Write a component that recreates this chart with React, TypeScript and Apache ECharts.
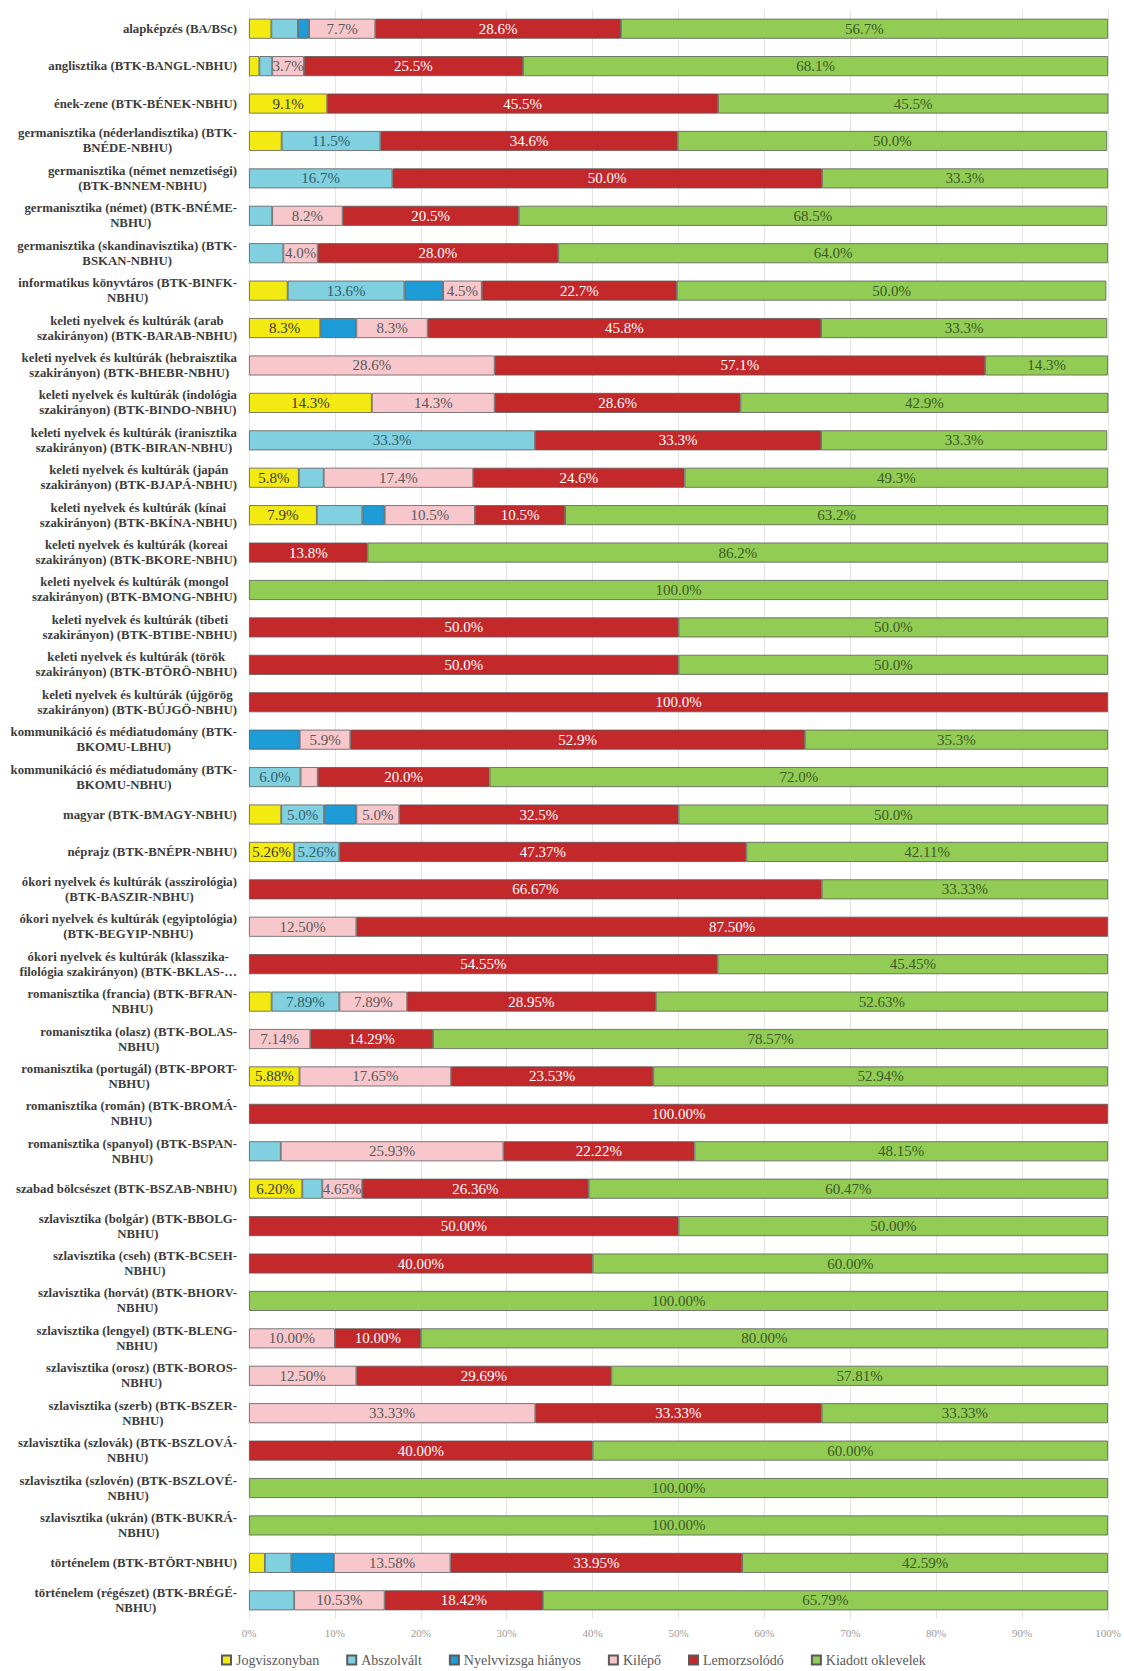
import React, { useEffect, useRef } from "react";
import * as echarts from "echarts";

const categories = [
  "alapképzés (BA/BSc)",
  "anglisztika (BTK-BANGL-NBHU)",
  "ének-zene (BTK-BÉNEK-NBHU)",
  "germanisztika (néderlandisztika) (BTK-\nBNÉDE-NBHU)",
  "germanisztika (német nemzetiségi)\n(BTK-BNNEM-NBHU)",
  "germanisztika (német) (BTK-BNÉME-\nNBHU)",
  "germanisztika (skandinavisztika) (BTK-\nBSKAN-NBHU)",
  "informatikus könyvtáros (BTK-BINFK-\nNBHU)",
  "keleti nyelvek és kultúrák (arab\nszakirányon) (BTK-BARAB-NBHU)",
  "keleti nyelvek és kultúrák (hebraisztika\nszakirányon) (BTK-BHEBR-NBHU)",
  "keleti nyelvek és kultúrák (indológia\nszakirányon) (BTK-BINDO-NBHU)",
  "keleti nyelvek és kultúrák (iranisztika\nszakirányon) (BTK-BIRAN-NBHU)",
  "keleti nyelvek és kultúrák (japán\nszakirányon) (BTK-BJAPÁ-NBHU)",
  "keleti nyelvek és kultúrák (kínai\nszakirányon) (BTK-BKÍNA-NBHU)",
  "keleti nyelvek és kultúrák (koreai\nszakirányon) (BTK-BKORE-NBHU)",
  "keleti nyelvek és kultúrák (mongol\nszakirányon) (BTK-BMONG-NBHU)",
  "keleti nyelvek és kultúrák (tibeti\nszakirányon) (BTK-BTIBE-NBHU)",
  "keleti nyelvek és kultúrák (török\nszakirányon) (BTK-BTÖRÖ-NBHU)",
  "keleti nyelvek és kultúrák (újgörög\nszakirányon) (BTK-BÚJGÖ-NBHU)",
  "kommunikáció és médiatudomány (BTK-\nBKOMU-LBHU)",
  "kommunikáció és médiatudomány (BTK-\nBKOMU-NBHU)",
  "magyar (BTK-BMAGY-NBHU)",
  "néprajz (BTK-BNÉPR-NBHU)",
  "ókori nyelvek és kultúrák (asszirológia)\n(BTK-BASZIR-NBHU)",
  "ókori nyelvek és kultúrák (egyiptológia)\n(BTK-BEGYIP-NBHU)",
  "ókori nyelvek és kultúrák (klasszika-\nfilológia szakirányon) (BTK-BKLAS-…",
  "romanisztika (francia) (BTK-BFRAN-\nNBHU)",
  "romanisztika (olasz) (BTK-BOLAS-\nNBHU)",
  "romanisztika (portugál) (BTK-BPORT-\nNBHU)",
  "romanisztika (román) (BTK-BROMÁ-\nNBHU)",
  "romanisztika (spanyol) (BTK-BSPAN-\nNBHU)",
  "szabad bölcsészet (BTK-BSZAB-NBHU)",
  "szlavisztika (bolgár) (BTK-BBOLG-\nNBHU)",
  "szlavisztika (cseh) (BTK-BCSEH-\nNBHU)",
  "szlavisztika (horvát) (BTK-BHORV-\nNBHU)",
  "szlavisztika (lengyel) (BTK-BLENG-\nNBHU)",
  "szlavisztika (orosz) (BTK-BOROS-\nNBHU)",
  "szlavisztika (szerb) (BTK-BSZER-\nNBHU)",
  "szlavisztika (szlovák) (BTK-BSZLOVÁ-\nNBHU)",
  "szlavisztika (szlovén) (BTK-BSZLOVÉ-\nNBHU)",
  "szlavisztika (ukrán) (BTK-BUKRÁ-\nNBHU)",
  "történelem (BTK-BTÖRT-NBHU)",
  "történelem (régészet) (BTK-BRÉGÉ-\nNBHU)",
];

const jogviszonyban = [
  2.6, 1.2, 9.1, 3.8, 0, 0, 0, 4.5, 8.3, 0, 14.3, 0, 5.8, 7.9, 0, 0, 0, 0, 0, 0, 0, 3.75,
  5.26, 0, 0, 0, 2.63, 0, 5.88, 0, 0, 6.2, 0, 0, 0, 0, 0, 0, 0, 0, 0, 1.85, 0,
];
const abszolvalt = [
  3.1, 1.5, 0, 11.5, 16.7, 2.7, 4.0, 13.6, 0, 0, 0, 33.3, 2.9, 5.3, 0, 0, 0, 0, 0, 0, 6.0, 5.0,
  5.26, 0, 0, 0, 7.89, 0, 0, 0, 3.7, 2.33, 0, 0, 0, 0, 0, 0, 0, 0, 0, 3.09, 5.26,
];
const nyelvvizsga = [
  1.3, 0, 0, 0, 0, 0, 0, 4.5, 4.2, 0, 0, 0, 0, 2.6, 0, 0, 0, 0, 0, 5.9, 0, 3.75,
  0, 0, 0, 0, 0, 0, 0, 0, 0, 0, 0, 0, 0, 0, 0, 0, 0, 0, 0, 4.94, 0,
];
const kilepo = [
  7.7, 3.7, 0, 0, 0, 8.2, 4.0, 4.5, 8.3, 28.6, 14.3, 0, 17.4, 10.5, 0, 0, 0, 0, 0, 5.9, 2.0, 5.0,
  0, 0, 12.5, 0, 7.89, 7.14, 17.65, 0, 25.93, 4.65, 0, 0, 0, 10.0, 12.5, 33.33, 0, 0, 0, 13.58, 10.53,
];
const lemorzsolodo = [
  28.6, 25.5, 45.5, 34.6, 50.0, 20.5, 28.0, 22.7, 45.8, 57.1, 28.6, 33.3, 24.6, 10.5, 13.8, 0, 50.0, 50.0, 100.0, 52.9, 20.0, 32.5,
  47.37, 66.67, 87.5, 54.55, 28.95, 14.29, 23.53, 100.0, 22.22, 26.36, 50.0, 40.0, 0, 10.0, 29.69, 33.33, 40.0, 0, 0, 33.95, 18.42,
];
const kiadottOklevelek = [
  56.7, 68.1, 45.5, 50.0, 33.3, 68.5, 64.0, 50.0, 33.3, 14.3, 42.9, 33.3, 49.3, 63.2, 86.2, 100.0, 50.0, 50.0, 0, 35.3, 72.0, 50.0,
  42.11, 33.33, 0, 45.45, 52.63, 78.57, 52.94, 0, 48.15, 60.47, 50.0, 60.0, 100.0, 80.0, 57.81, 33.33, 60.0, 100.0, 100.0, 42.59, 65.79,
];

const seriesNames = [
  "Jogviszonyban",
  "Abszolvált",
  "Nyelvvizsga hiányos",
  "Kilépő",
  "Lemorzsolódó",
  "Kiadott oklevelek",
];
const seriesValues = [jogviszonyban, abszolvalt, nyelvvizsga, kilepo, lemorzsolodo, kiadottOklevelek];
const seriesColors = ["#F3EA12", "#80D0E0", "#1E9CD8", "#F7C7CB", "#C3282B", "#92CC55"];
const labelColors = ["#3a3a3a", "#2f5f6a", "#ffffff", "#595959", "#ffffff", "#3d5a26"];

// data labels that are not shown in the reference: [series index, category index]
const hiddenLabels = [
  [0, 0], [1, 0], [2, 0], [0, 1], [1, 1], [0, 3], [1, 5], [1, 6], [0, 7], [2, 7], [2, 8],
  [1, 12], [1, 13], [2, 13], [2, 19], [3, 20], [0, 21], [2, 21], [0, 26], [1, 30], [1, 31],
  [0, 41], [1, 41], [2, 41], [1, 42],
];
const twoDecimalsFromIndex = 22;

const xTicks = [0, 10, 20, 30, 40, 50, 60, 70, 80, 90, 100];

export default function App() {
  const ref = useRef<HTMLDivElement>(null);
  useEffect(() => {
    document.body.style.margin = "0";
    const chart = echarts.init(ref.current!, undefined, { renderer: "svg" });
    const hiddenSet = new Set(hiddenLabels.map(([s, c]) => s + ":" + c));
    const series = seriesValues.map((vals, si) => ({
      name: seriesNames[si],
      type: "bar",
      stack: "total",
      barWidth: 20,
      itemStyle: { color: seriesColors[si], borderColor: "#5a5a5a", borderWidth: 0.8 },
      label: {
        show: true,
        position: "inside",
        color: labelColors[si],
        fontFamily: "Liberation Serif",
        fontSize: 15,
        formatter: (p: any) => {
          const dec = p.dataIndex >= twoDecimalsFromIndex ? 2 : 1;
          return Number(p.value).toFixed(dec) + "%";
        },
      },
      data: vals.map((v, ci) => {
        if (!v) return "-";
        if (hiddenSet.has(si + ":" + ci)) return { value: v, label: { show: false } };
        return v;
      }),
    }));
    chart.setOption({
      animation: false,
      backgroundColor: "#ffffff",
      grid: { left: 249, right: 16, top: 10, bottom: 52, containLabel: false },
      legend: {
        data: seriesNames,
        top: 1648,
        left: 216,
        itemWidth: 9,
        itemHeight: 9,
        itemGap: 27,
        icon: "rect",
        textStyle: { fontFamily: "Liberation Serif", fontSize: 14, color: "#595959" },
      },
      xAxis: {
        type: "value",
        min: xTicks[0],
        max: xTicks[xTicks.length - 1],
        interval: 10,
        axisLine: { show: false },
        axisTick: { show: false },
        splitLine: { show: true, lineStyle: { color: "#e4e4e4", width: 1 } },
        axisLabel: {
          formatter: (v: number) => v + "%",
          fontFamily: "Liberation Serif",
          fontSize: 11,
          color: "#9a9a9a",
          margin: 8,
        },
      },
      yAxis: {
        type: "category",
        inverse: true,
        data: categories,
        axisLine: { show: false },
        axisTick: { show: false },
        axisLabel: {
          margin: 12,
          interval: 0,
          formatter: (v: string) => v.split("\n").map((l) => "{c|" + l + "}").join("\n"),
          rich: {
            c: {
              align: "center",
              fontFamily: "Liberation Serif",
              fontSize: 12.8,
              fontWeight: "bold",
              color: "#3c3c3c",
              lineHeight: 15,
            },
          },
        },
      },
      series,
    });
    return () => chart.dispose();
  }, []);
  return <div ref={ref} style={{ width: 1124, height: 1671 }} />;
}
